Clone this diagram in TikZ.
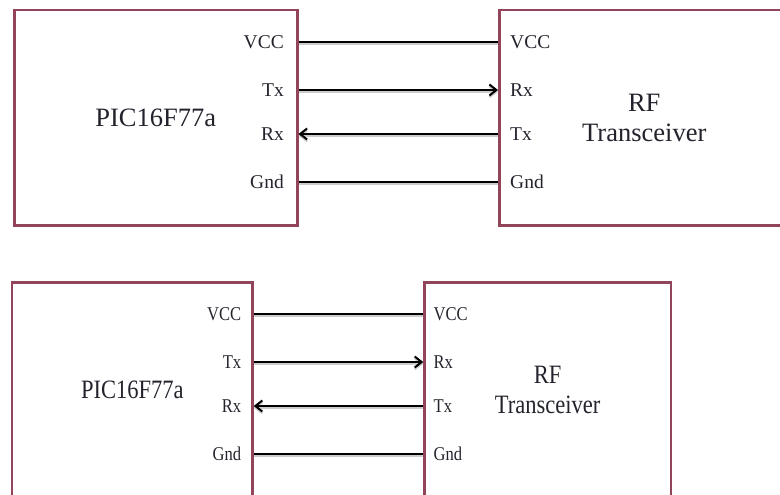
\documentclass[tikz,border=0pt]{standalone}
\usepackage{fontspec}
\setmainfont{Liberation Serif}
\usetikzlibrary{arrows.meta}
\definecolor{boxred}{RGB}{145,68,90}
\definecolor{inkgray}{RGB}{35,35,45}
\tikzset{
  chipbox/.style={draw=boxred, line width=2.5pt, inner sep=0pt, align=center,
    text=inkgray, font=\fontsize{26.5}{30}\selectfont},
  pinlabel/.style={inner sep=0pt, text=inkgray, font=\fontsize{19.5}{20}\selectfont},
  wire/.style={line width=2.8pt,
    preaction={draw=black!20, line width=3pt, transform canvas={yshift=-1.8pt}}},
  sig/.style={wire, -{Straight Barb[length=7pt,width=11pt,line width=2pt]}}
}

\begin{document}
\begin{tikzpicture}[x=1pt,y=-1pt]
\clip (0,0) rectangle (780,495);

% upper link and the same link squeezed below
\foreach \row/\sx/\dy in {top/1/0, low/0.85/272}{
\begin{scope}[shift={(0,\dy)}, xscale=\sx, transform shape]
  \node[chipbox, anchor=north west, minimum width=283pt, minimum height=215pt]
    (\row-pic) at (13,9) {PIC16F77a};
  \node[chipbox, anchor=north west, minimum width=290pt, minimum height=215pt]
    (\row-rf) at (498,9) {RF\\Transceiver};

  % pins on the controller
  \node[pinlabel, anchor=east] (\row-vcc1) at (284,42) {VCC};
  \node[pinlabel, anchor=east] (\row-tx1) at (284,90) {Tx};
  \node[pinlabel, anchor=east] (\row-rx1) at (284,134) {Rx};
  \node[pinlabel, anchor=east] (\row-gnd1) at (284,182) {Gnd};

  % pins on the transceiver
  \node[pinlabel, anchor=west] (\row-vcc2) at (510,42) {VCC};
  \node[pinlabel, anchor=west] (\row-rx2) at (510,90) {Rx};
  \node[pinlabel, anchor=west] (\row-tx2) at (510,134) {Tx};
  \node[pinlabel, anchor=west] (\row-gnd2) at (510,182) {Gnd};

  \draw[wire] (\row-pic.east |- \row-vcc1) -- (\row-rf.west |- \row-vcc2);
  \draw[sig] (\row-pic.east |- \row-tx1) -- (\row-rf.west |- \row-rx2);
  \draw[sig] (\row-rf.west |- \row-tx2) -- (\row-pic.east |- \row-rx1);
  \draw[wire] (\row-pic.east |- \row-gnd1) -- (\row-rf.west |- \row-gnd2);
\end{scope}}
\end{tikzpicture}
\end{document}
